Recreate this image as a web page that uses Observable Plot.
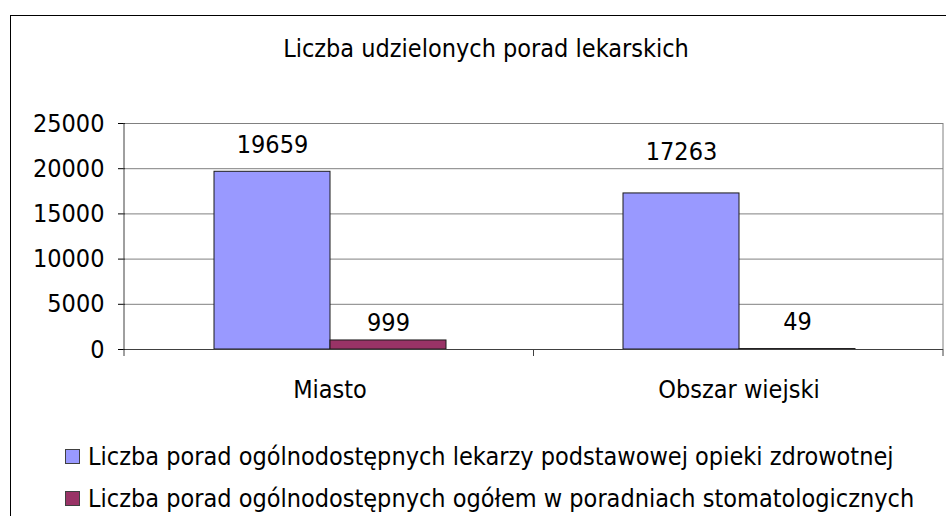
<!DOCTYPE html>
<html>
<head>
<meta charset="utf-8">
<script src="https://cdn.jsdelivr.net/npm/d3@7"></script>
<script src="https://cdn.jsdelivr.net/npm/@observablehq/plot@0.6"></script>
<style>
  body { margin: 0; background: #fff; }
  #wrap { position: relative; width: 946px; height: 516px; overflow: hidden; background: #fff;
          font-family: "DejaVu Sans Condensed", "DejaVu Sans", sans-serif; color: #000; font-size: 25px; }
  #border { position: absolute; left: 10px; top: 15px; width: 980px; height: 560px;
            border: 1px solid #000; box-sizing: border-box; }
  #chart { position: absolute; left: 0; top: 0; }
  #title { position: absolute; left: 0; width: 972px; top: 35.9px; line-height: 25px; text-align: center; white-space: nowrap; }
  .sw { position: absolute; width: 15px; height: 15px; box-sizing: border-box; border: 1px solid #404040; }
  .lt { position: absolute; left: 88px; line-height: 25px; white-space: nowrap; }
</style>
</head>
<body>
<div id="wrap">
  <div id="border"></div>
  <div id="chart"></div>
  <div id="title"></div>
  <div id="legend"></div>
</div>
<script>
const titleText = "Liczba udzielonych porad lekarskich";
const categories = ["Miasto", "Obszar wiejski"];
const seriesNames = [
  "Liczba porad ogólnodostępnych lekarzy podstawowej opieki zdrowotnej",
  "Liczba porad ogólnodostępnych ogółem w poradniach stomatologicznych"
];
const primaryCare = [19659, 17263];
const dental = [999, 49];
const yTicks = [0, 5000, 10000, 15000, 20000, 25000];
const seriesColors = ["#9999FF", "#993366"];

const data = categories.flatMap((c, i) => [
  {category: c, series: seriesNames[0], value: primaryCare[i]},
  {category: c, series: seriesNames[1], value: dental[i]}
]);

// label vertical nudges (pixels, baseline gap above bar top) as in the original
const labelGap = [19, 9, 33, 19];

const FONT = "\"DejaVu Sans Condensed\", \"DejaVu Sans\", sans-serif";

const chart = Plot.plot({
  width: 946,
  height: 516,
  marginTop: 123,
  marginBottom: 167,
  marginLeft: 124,
  marginRight: 3,
  style: {fontFamily: FONT, fontSize: "25px", color: "#000", background: "transparent", overflow: "visible"},
  facet: {data, x: "category"},
  fx: {padding: 0, axis: "bottom", tickSize: 0, tickPadding: 31, label: null, domain: categories},
  x: {domain: seriesNames, paddingInner: 0, paddingOuter: 0.75, axis: null},
  y: {domain: [0, 25000], ticks: yTicks, tickSize: 7, tickPadding: 14, label: null, tickFormat: d => String(d)},
  color: {domain: seriesNames, range: seriesColors},
  marks: [
    Plot.ruleY(yTicks.filter(t => t > 0), {stroke: "#808080", strokeWidth: 1}),
    Plot.barY(data, {x: "series", y: "value", fill: "series", stroke: "#1a1a1a", strokeWidth: 1}),
    Plot.ruleY([0], {stroke: "#404040", strokeWidth: 1}),
    ...data.map((row, i) => Plot.text(data, {
      filter: d => d === row,
      x: "series", y: "value", text: d => String(d.value),
      dy: -labelGap[i], lineAnchor: "bottom", fill: "#000", fontSize: 25
    }))
  ]
});
document.getElementById("chart").appendChild(chart);

// axis lines and category boundary ticks, positioned from the library's scales
const fx = chart.scale("fx");
const ys = chart.scale("y");
const svg = d3.select(chart.tagName.toLowerCase() === "svg" ? chart : chart.querySelector("svg"));
const y0 = Math.max(...ys.range), yTop = Math.min(...ys.range);
const x0 = Math.min(...fx.range), x1 = Math.max(...fx.range);
const step = (x1 - x0) / categories.length;
const g = svg.append("g");
g.append("line").attr("x1", x1).attr("x2", x1).attr("y1", yTop).attr("y2", y0).attr("stroke", "#808080");
for (let i = 0; i <= categories.length; i++) {
  const x = x0 + i * step;
  g.append("line").attr("x1", x).attr("x2", x).attr("y1", y0).attr("y2", y0 + 7).attr("stroke", "#404040");
}
g.append("line").attr("x1", x0).attr("x2", x0).attr("y1", yTop).attr("y2", y0).attr("stroke", "#404040");

document.getElementById("title").textContent = titleText;
const legend = document.getElementById("legend");
seriesNames.forEach((name, i) => {
  const sw = document.createElement("div");
  sw.className = "sw";
  sw.style.left = "65px";
  sw.style.top = (449 + i * 42) + "px";
  sw.style.background = seriesColors[i];
  legend.appendChild(sw);
  const t = document.createElement("div");
  t.className = "lt";
  t.style.top = (443.85 + i * 42) + "px";
  t.textContent = name;
  legend.appendChild(t);
});
</script>
</body>
</html>
